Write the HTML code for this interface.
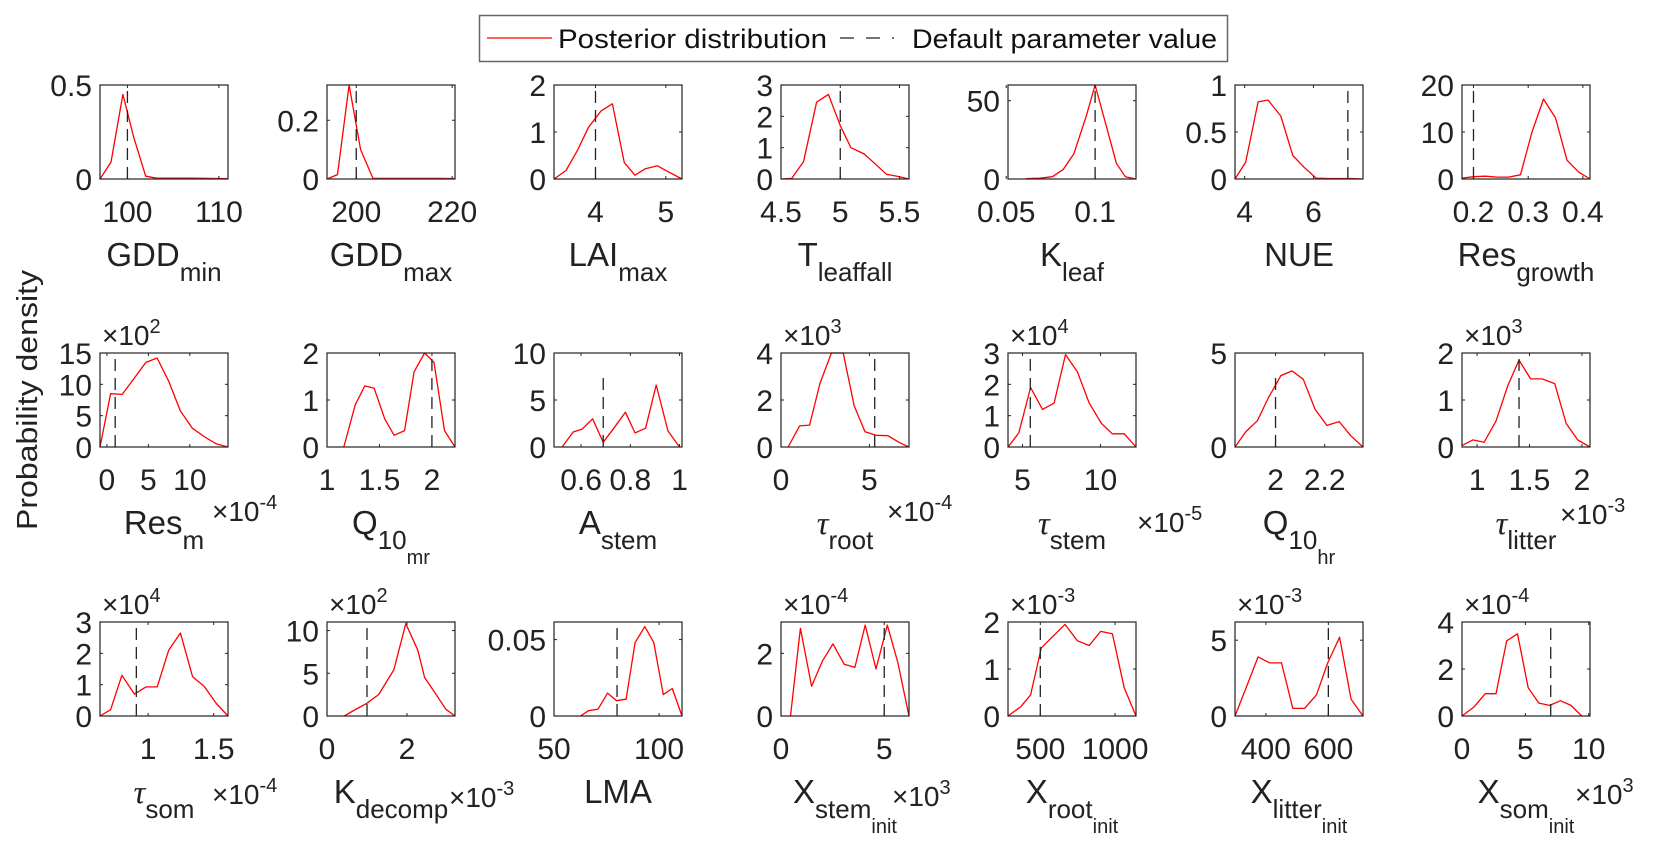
<!DOCTYPE html>
<html><head><meta charset="utf-8">
<style>
html,body{margin:0;padding:0;background:#fff;}
svg{display:block;font-family:"Liberation Sans",Arial,sans-serif;}
</style></head>
<body>
<svg id="fig" width="1666" height="851" viewBox="0 0 1666 851" xmlns="http://www.w3.org/2000/svg">
  <g>
    <rect x="479.5" y="15.5" width="748" height="46" fill="#fff" stroke="#666" stroke-width="1.5"/>
    <line x1="487" y1="38" x2="552" y2="38" stroke="#ff0000" stroke-width="1.3"/>
    <text x="558" y="48" font-size="27" textLength="269" lengthAdjust="spacingAndGlyphs" fill="#111">Posterior distribution</text>
    <line x1="840" y1="38" x2="894" y2="38" stroke="#222" stroke-width="1.3" stroke-dasharray="14,12"/>
    <text x="912" y="48" font-size="27" textLength="305" lengthAdjust="spacingAndGlyphs" fill="#111">Default parameter value</text>
  </g>
  <text transform="translate(37,400) rotate(-90)" text-anchor="middle" font-size="29" textLength="260" lengthAdjust="spacingAndGlyphs" fill="#222">Probability density</text>
</svg>
<script>
// ---- data ----
const xGDDmin = [97,98.2,99.5,100.7,102,103.2,105,107,109,111];
const yGDDmin = [0,0.09,0.45,0.22,0.015,0.004,0.005,0.004,0.003,0.002];
const xGDDmax = [193.9,196.1,198.5,200.9,203.5,206,210,214,218,220.6];
const yGDDmax = [0,0.015,0.32,0.1,0.002,0.002,0.002,0.002,0.002,0.001];
const xLAImax = [3.41,3.58,3.74,3.9,4.08,4.24,4.41,4.56,4.71,4.88,5.04,5.23];
const yLAImax = [0,0.18,0.6,1.1,1.45,1.6,0.35,0.08,0.22,0.28,0.15,0];
const xTleaf = [4.5,4.59,4.69,4.8,4.9,5.0,5.09,5.2,5.29,5.39,5.49,5.58];
const yTleaf = [0,0.02,0.55,2.45,2.7,1.7,1.0,0.8,0.5,0.15,0.08,0];
const xKleaf = [0.061,0.069,0.076,0.082,0.088,0.095,0.1,0.106,0.112,0.117,0.123];
const yKleaf = [0.2,0.5,1.5,6,16,40,60,35,10,1.5,0];
const xNUE = [3.72,4.03,4.39,4.68,5.05,5.4,5.74,6.08,6.43,6.78,7.1,7.44];
const yNUE = [0,0.18,0.82,0.84,0.67,0.25,0.12,0.01,0.005,0.005,0.005,0];
const xResG = [0.179,0.2,0.222,0.243,0.264,0.286,0.307,0.328,0.35,0.371,0.392,0.413];
const yResG = [0.2,0.5,0.6,0.4,0.4,0.9,10,17,13,4,1.5,0];
const xResm = [-0.83,0.45,1.85,3.3,4.7,6.05,7.45,8.85,10.3,11.8,13.2,14.6];
const yResm = [0,8.5,8.4,11,13.5,14.2,10.5,5.8,3,1.6,0.5,0];
const xQ10mr = [1.16,1.27,1.36,1.45,1.55,1.64,1.74,1.83,1.93,2.02,2.12,2.22];
const yQ10mr = [0,0.9,1.3,1.25,0.6,0.25,0.35,1.6,2.0,1.8,0.35,0];
const xAstem = [0.523,0.568,0.604,0.647,0.69,0.733,0.78,0.819,0.862,0.905,0.953,1.0];
const yAstem = [0,1.6,1.9,3,0.5,2,3.7,1.5,2,6.6,1.7,0];
const xTroot = [0.4,1.05,1.62,2.2,2.85,3.52,4.14,4.75,5.38,6.05,6.67,7.24];
const yTroot = [0,0.9,0.93,2.7,4,4,1.75,0.65,0.5,0.48,0.2,0];
const xTstem = [4.07,4.76,5.52,6.28,7.03,7.76,8.52,9.28,10.07,10.76,11.52,12.28];
const yTstem = [0,0.45,1.9,1.2,1.4,2.95,2.4,1.4,0.75,0.42,0.42,0];
const xQ10hr = [1.835,1.878,1.926,1.97,2.022,2.067,2.113,2.161,2.209,2.259,2.306,2.356];
const yQ10hr = [0,0.8,1.4,2.6,3.8,4.05,3.6,2.0,1.15,1.35,0.6,0];
const xTlit = [0.856,0.959,1.067,1.18,1.292,1.4,1.51,1.62,1.74,1.85,1.96,2.077];
const yTlit = [0.03,0.15,0.1,0.55,1.3,1.85,1.45,1.45,1.35,0.5,0.15,0];
const xTsom = [0.633,0.714,0.8,0.895,0.984,1.069,1.157,1.246,1.339,1.427,1.52,1.609];
const yTsom = [0,0.2,1.3,0.7,0.93,0.93,2.1,2.65,1.25,0.95,0.4,0];
const xKdec = [0.43,0.69,1.0,1.29,1.67,1.97,2.27,2.44,2.73,2.97,3.2];
const yKdec = [0,0.7,1.5,2.5,5.4,10.8,7.7,4.5,2.5,0.8,0];
const xLMA = [62.6,66.4,71,75.5,79.8,84.3,88.6,93.2,97.5,102,106.3,110.9];
const yLMA = [0,0.0035,0.0045,0.015,0.01,0.011,0.048,0.0585,0.048,0.014,0.018,0];
const xXstem = [0.46,0.94,1.48,2.0,2.52,3.06,3.58,4.08,4.6,5.15,5.66,6.2];
const yXstem = [0,2.8,0.95,1.75,2.3,1.65,1.55,2.9,1.5,2.9,1.7,0];
const xXroot = [284,370,435,507,586,665,748,827,903,982,1061,1140];
const yXroot = [0,0.2,0.45,1.45,1.7,1.95,1.6,1.5,1.8,1.75,0.6,0];
const xXlit = [301,339,375,412,450,486,524,562,598,636,673,711];
const yXlit = [0,2,3.9,3.5,3.5,0.5,0.5,1.4,3.5,5.2,1.1,0];
const xXsom = [0,0.98,1.83,2.68,3.53,4.38,5.22,6.07,6.92,7.77,8.6,9.45];
const yXsom = [0,0.4,0.95,0.95,3.2,3.5,1.2,0.55,0.45,0.65,0.45,0];

const defaults = [100,200,4,5,0.1,7.0,0.2, 1,2,0.69,5.3,5.5,2.0,1.4, 0.91,1,80,5,500,600,7];
const dashTops = [null,null,null,null,null,null,null, null,null,8,null,null,4.0,null, null,null,null,null,null,null,null];
const xLims = [[97,111],[193.9,220.6],[3.41,5.23],[4.5,5.58],[0.051,0.123],[3.72,7.44],[0.179,0.413],
  [-0.83,14.6],[1,2.22],[0.49,1.01],[0,7.24],[4.07,12.28],[1.835,2.356],[0.856,2.077],
  [0.633,1.609],[0,3.2],[50,110.9],[0,6.2],[284,1140],[301,711],[0,10.1]];
const yMaxs = [0.5,0.32,2,3,60,1,20, 15,2,10,4,3,5,2, 3,11,0.0615,3,2,6.2,4];
const xTicks = [[100,110],[200,220],[4,5],[4.5,5,5.5],[0.05,0.1],[4,6],[0.2,0.3,0.4],
  [0,5,10],[1,1.5,2],[0.6,0.8,1],[0,5],[5,10],[2,2.2],[1,1.5,2],
  [1,1.5],[0,2],[50,100],[0,5],[500,1000],[400,600],[0,5,10]];
const xTickLabels = [["100","110"],["200","220"],["4","5"],["4.5","5","5.5"],["0.05","0.1"],["4","6"],["0.2","0.3","0.4"],
  ["0","5","10"],["1","1.5","2"],["0.6","0.8","1"],["0","5"],["5","10"],["2","2.2"],["1","1.5","2"],
  ["1","1.5"],["0","2"],["50","100"],["0","5"],["500","1000"],["400","600"],["0","5","10"]];
const yTicks = [[0,0.5],[0,0.2],[0,1,2],[0,1,2,3],[0,50],[0,0.5,1],[0,10,20],
  [0,5,10,15],[0,1,2],[0,5,10],[0,2,4],[0,1,2,3],[0,5],[0,1,2],
  [0,1,2,3],[0,5,10],[0,0.05],[0,2],[0,1,2],[0,5],[0,2,4]];
const yTickLabels = [["0","0.5"],["0","0.2"],["0","1","2"],["0","1","2","3"],["0","50"],["0","0.5","1"],["0","10","20"],
  ["0","5","10","15"],["0","1","2"],["0","5","10"],["0","2","4"],["0","1","2","3"],["0","5"],["0","1","2"],
  ["0","1","2","3"],["0","5","10"],["0","0.05"],["0","2"],["0","1","2"],["0","5"],["0","2","4"]];
const topExp = [null,null,null,null,null,null,null, "2",null,null,"3","4",null,"3", "4","2",null,"-4","-3","-3","-4"];
const botExp = [null,null,null,null,null,null,null, "-4",null,null,"-4","-5",null,"-3", "-4","-3",null,"3",null,null,"3"];
const labels = [["GDD","min"],["GDD","max"],["LAI","max"],["T","leaffall"],["K","leaf"],["NUE",""],["Res","growth"],
  ["Res","m"],["Q","10","mr"],["A","stem"],["τ","root"],["τ","stem"],["Q","10","hr"],["τ","litter"],
  ["τ","som"],["K","decomp"],["LMA",""],["X","stem","init"],["X","root","init"],["X","litter","init"],["X","som","init"]];
const names = ["gdd-min","gdd-max","lai-max","t-leaffall","k-leaf","nue","res-growth",
  "res-m","q10-mr","a-stem","tau-root","tau-stem","q10-hr","tau-litter",
  "tau-som","k-decomp","lma","x-stem-init","x-root-init","x-litter-init","x-som-init"];
const seriesX = [xGDDmin,xGDDmax,xLAImax,xTleaf,xKleaf,xNUE,xResG,xResm,xQ10mr,xAstem,xTroot,xTstem,xQ10hr,xTlit,xTsom,xKdec,xLMA,xXstem,xXroot,xXlit,xXsom];
const seriesY = [yGDDmin,yGDDmax,yLAImax,yTleaf,yKleaf,yNUE,yResG,yResm,yQ10mr,yAstem,yTroot,yTstem,yQ10hr,yTlit,yTsom,yKdec,yLMA,yXstem,yXroot,yXlit,yXsom];

// ---- layout ----
const colLeft = [100,327,554,781,1008,1235,1462];
const rowTop = [85,353,622];
const W = 128, H = 94;
const botMultX = {7:212,10:887,11:1137,13:1560,14:212,15:449,17:892,20:1575};
const botMultDy = {7:74,10:74,11:85,13:77,14:88,15:91,17:90,20:88};

const NS = "http://www.w3.org/2000/svg";
const svg = document.getElementById("fig");
function mk(tag, attrs, parent){ const e=document.createElementNS(NS,tag); for(const k in attrs) e.setAttribute(k,attrs[k]); parent.appendChild(e); return e; }

for (let i=0;i<21;i++){
  const L = colLeft[i%7], T = rowTop[Math.floor(i/7)], B = T+H, R = L+W;
  const [x0,x1] = xLims[i], y1 = yMaxs[i];
  const sx = v => L + (v-x0)/(x1-x0)*W;
  const sy = v => B - v/y1*H;
  const g = mk("g",{},svg);
  
  
  // posterior line
  const pts = seriesX[i].map((x,k)=>sx(x).toFixed(1)+","+sy(Math.min(seriesY[i][k],y1)).toFixed(1)).join(" ");
  const pl = mk("polyline",{points:pts,fill:"none",stroke:"#ff0000","stroke-width":"1.3","stroke-linejoin":"round"},g);
  
  
  // default dashed line
  const dx = sx(defaults[i]);
  const dt = dashTops[i]===null ? T : sy(dashTops[i]);
  const dl = mk("line",{x1:dx,x2:dx,y1:B,y2:dt,stroke:"#222","stroke-width":"1.3","stroke-dasharray":"12,7"},g);
  
  
  // box
  const bx = mk("rect",{x:L,y:T,width:W,height:H,fill:"none",stroke:"#222","stroke-width":"1.2"},g);
  
  
  // x ticks
  xTicks[i].forEach((v,k)=>{
    const x = sx(v);
    mk("line",{x1:x,x2:x,y1:B,y2:B-3,stroke:"#222","stroke-width":"1"},g);
    mk("line",{x1:x,x2:x,y1:T,y2:T+3,stroke:"#222","stroke-width":"1"},g);
    const t = mk("text",{x:x,y:B+43,"text-anchor":"middle","font-size":"30",fill:"#222"},g);
    t.textContent = xTickLabels[i][k];
    
    
  });
  yTicks[i].forEach((v,k)=>{
    const y = sy(v);
    mk("line",{x1:L,x2:L+3,y1:y,y2:y,stroke:"#222","stroke-width":"1"},g);
    mk("line",{x1:R,x2:R-3,y1:y,y2:y,stroke:"#222","stroke-width":"1"},g);
    const t = mk("text",{x:L-8,y:y+11,"text-anchor":"end","font-size":"30",fill:"#222"},g);
    t.textContent = yTickLabels[i][k];
    
    
  });
  // x label
  const lb = labels[i];
  const xl = mk("text",{x:L+W/2,y:B+87,"text-anchor":"middle","font-size":"33",fill:"#222"},g);
  
  
  const m = mk("tspan",{},xl); m.textContent = lb[0];
  if (lb[0]==="τ"){ m.setAttribute("font-family","'Liberation Serif',serif"); m.setAttribute("font-style","italic"); }
  if (lb[1]){ const s = mk("tspan",{dy:"15","font-size":"26"},xl); s.textContent = lb[1]; }
  if (lb[2]){ const s2 = mk("tspan",{dy:"15","font-size":"20"},xl); s2.textContent = lb[2]; }
  // multipliers
  if (topExp[i]){
    const tm = mk("text",{x:L+2,y:T-8,"font-size":"28",fill:"#222"},g);
    
    
    const a = mk("tspan",{},tm); a.textContent = "×10";
    const b = mk("tspan",{dy:"-12","font-size":"20"},tm); b.textContent = topExp[i];
  }
  if (botExp[i]){
    const bm = mk("text",{x:botMultX[i],y:B+botMultDy[i],"font-size":"28",fill:"#222"},g);
    
    
    const a = mk("tspan",{},bm); a.textContent = "×10";
    const b = mk("tspan",{dy:"-12","font-size":"20"},bm); b.textContent = botExp[i];
  }
}
</script>
</body></html>
